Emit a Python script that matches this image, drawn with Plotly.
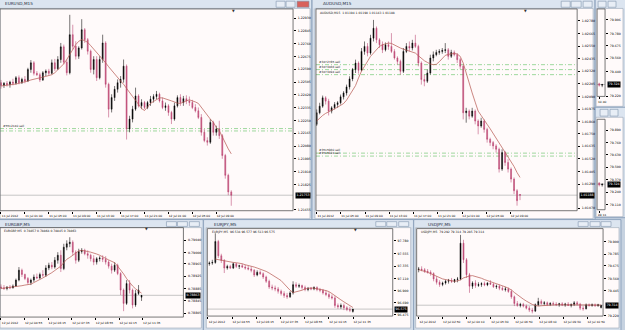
import plotly.graph_objects as go

W, H = 625, 330
FONT = "DejaVu Sans"

# ---------------- EURUSD M15 ----------------
eu_open = [1.22501,1.22483,1.22497,1.22488,1.22505,1.22497,1.22534,1.22501,1.22523,1.22512,
           1.22589,1.22633,1.22563,1.22554,1.22519,1.22567,1.22578,1.22563,1.22633,1.22593,
           1.22655,1.22739,1.22637,1.22567,1.22820,1.22743,1.22677,1.22732,1.22853,1.22787,
           1.22710,1.22589,1.22655,1.22534,1.22655,1.22765,1.22490,1.22325,1.22402,1.22457,
           1.22501,1.22523,1.22611,1.22193,1.22259,1.22325,1.22413,1.22347,1.22369,1.22336,
           1.22369,1.22391,1.22409,1.22424,1.22380,1.22336,1.22347,1.22303,1.22259,1.22347,
           1.22402,1.22369,1.22395,1.22380,1.22369,1.22336,1.22314,1.22270,1.22171,1.22116,
           1.22105,1.22237,1.22171,1.22193,1.22149,1.22017,1.21885,1.21775]
eu_high = [1.22519,1.22505,1.22512,1.22514,1.22527,1.22545,1.22549,1.22534,1.22545,1.22600,
           1.22651,1.22644,1.22578,1.22567,1.22578,1.22589,1.22593,1.22655,1.22659,1.22677,
           1.22765,1.22754,1.22655,1.22952,1.22886,1.22776,1.22743,1.22923,1.22864,1.22798,
           1.22721,1.22677,1.22677,1.22677,1.22820,1.22776,1.22501,1.22424,1.22479,1.22523,
           1.22545,1.22655,1.22622,1.22281,1.22347,1.22468,1.22424,1.22391,1.22380,1.22380,
           1.22413,1.22424,1.22446,1.22435,1.22402,1.22369,1.22358,1.22314,1.22369,1.22417,
           1.22424,1.22413,1.22417,1.22409,1.22387,1.22358,1.22336,1.22292,1.22193,1.22138,
           1.22259,1.22248,1.22215,1.22248,1.22160,1.22028,1.21896,1.21786]
eu_low = [1.22461,1.22466,1.22475,1.22468,1.22483,1.22488,1.22490,1.22492,1.22497,1.22505,
          1.22567,1.22549,1.22545,1.22505,1.22512,1.22545,1.22549,1.22556,1.22578,1.22585,
          1.22633,1.22622,1.22549,1.22556,1.22721,1.22655,1.22659,1.22721,1.22765,1.22688,
          1.22567,1.22556,1.22512,1.22523,1.22633,1.22468,1.22270,1.22303,1.22380,1.22435,
          1.22468,1.22501,1.22123,1.22171,1.22237,1.22314,1.22336,1.22325,1.22325,1.22325,
          1.22347,1.22369,1.22391,1.22369,1.22325,1.22314,1.22281,1.22226,1.22248,1.22336,
          1.22347,1.22347,1.22358,1.22347,1.22325,1.22303,1.22259,1.22149,1.22105,1.22083,
          1.22094,1.22149,1.22149,1.22127,1.21995,1.21863,1.21753,1.21683]
eu_close = [1.22483,1.22497,1.22488,1.22505,1.22497,1.22534,1.22501,1.22523,1.22512,1.22589,
            1.22633,1.22563,1.22554,1.22519,1.22567,1.22578,1.22563,1.22633,1.22593,1.22655,
            1.22739,1.22637,1.22567,1.22820,1.22743,1.22677,1.22732,1.22853,1.22787,1.22710,
            1.22589,1.22655,1.22534,1.22655,1.22765,1.22490,1.22325,1.22402,1.22457,1.22501,
            1.22523,1.22611,1.22193,1.22259,1.22325,1.22413,1.22347,1.22369,1.22336,1.22369,
            1.22391,1.22409,1.22424,1.22380,1.22336,1.22347,1.22303,1.22259,1.22347,1.22402,
            1.22369,1.22395,1.22380,1.22369,1.22336,1.22314,1.22270,1.22171,1.22116,1.22105,
            1.22237,1.22171,1.22193,1.22149,1.22017,1.21885,1.21775,1.21753]
eu_ma = [1.22479,1.22481,1.22483,1.22486,1.22488,1.22492,1.22497,1.22501,1.22505,1.22512,
         1.22519,1.22525,1.22530,1.22534,1.22538,1.22543,1.22549,1.22554,1.22567,1.22585,
         1.22607,1.22626,1.22655,1.22688,1.22725,1.22754,1.22776,1.22787,1.22780,1.22769,
         1.22747,1.22725,1.22703,1.22684,1.22662,1.22633,1.22607,1.22582,1.22556,1.22534,
         1.22512,1.22490,1.22461,1.22435,1.22409,1.22384,1.22358,1.22329,1.22316,1.22343,
         1.22363,1.22376,1.22391,1.22400,1.22400,1.22395,1.22389,1.22380,1.22373,1.22365,
         1.22363,1.22369,1.22380,1.22387,1.22382,1.22373,1.22363,1.22336,1.22314,1.22285,
         1.22259,1.22237,1.22204,1.22182,1.22138,1.22098,1.22061,1.22028]
eu_yticks = ["1.22930","1.22845","1.22760","1.22675","1.22590","1.22505","1.22420","1.22335",
             "1.22250","1.22165","1.22080","1.21995","1.21910","1.21825","1.21655"]
eu_times = ["11 Jul 2012","11 Jul 01:00","11 Jul 05:00","11 Jul 09:00","11 Jul 13:00",
            "11 Jul 17:00","11 Jul 21:00","12 Jul 01:00","12 Jul 05:00","12 Jul 09:00"]
eu_sell = [1.22196, 1.22180]
eu_sell_lbl = ["#5512140 sell", ""]

# ---------------- AUDUSD M15 ----------------
au_open = [1.01835,1.01941,1.02001,1.02077,1.02047,1.01956,1.01986,1.02016,1.02032,1.02086,
           1.02122,1.02177,1.02250,1.02335,1.02395,1.02329,1.02501,1.02547,1.02486,1.02622,
           1.02713,1.02607,1.02562,1.02516,1.02562,1.02547,1.02501,1.02441,1.02410,1.02319,
           1.02501,1.02547,1.02532,1.02577,1.02547,1.02395,1.02244,1.02229,1.02304,1.02441,
           1.02471,1.02492,1.02501,1.02510,1.02516,1.02456,1.02492,1.02471,1.02426,1.02365,
           1.01941,1.01956,1.01910,1.01956,1.01865,1.01820,1.01865,1.01789,1.01698,1.01668,
           1.01638,1.01607,1.01426,1.01577,1.01486,1.01426,1.01335,1.01229,1.01194]
au_high = [1.01971,1.02032,1.02098,1.02092,1.02068,1.02001,1.02038,1.02047,1.02107,1.02138,
           1.02198,1.02274,1.02350,1.02426,1.02410,1.02532,1.02592,1.02577,1.02653,1.02789,
           1.02729,1.02622,1.02592,1.02583,1.02592,1.02668,1.02522,1.02456,1.02426,1.02532,
           1.02577,1.02592,1.02607,1.02653,1.02562,1.02410,1.02289,1.02335,1.02471,1.02501,
           1.02516,1.02522,1.02532,1.02577,1.02532,1.02516,1.02510,1.02486,1.02441,1.02380,
           1.01986,1.01971,1.01986,1.01971,1.01880,1.01895,1.01880,1.01804,1.01713,1.01683,
           1.01653,1.01622,1.01607,1.01592,1.01517,1.01441,1.01350,1.01244,1.01198]
au_low = [1.01820,1.01926,1.01986,1.02016,1.01916,1.01935,1.01971,1.01986,1.02016,1.02062,
          1.02098,1.02153,1.02229,1.02304,1.02298,1.02319,1.02471,1.02456,1.02471,1.02592,
          1.02577,1.02532,1.02486,1.02501,1.02516,1.02486,1.02426,1.02380,1.02289,1.02304,
          1.02486,1.02501,1.02510,1.02532,1.02365,1.02198,1.02183,1.02213,1.02289,1.02410,
          1.02456,1.02471,1.02480,1.02486,1.02426,1.02441,1.02456,1.02395,1.02341,1.01880,
          1.01850,1.01880,1.01895,1.01835,1.01744,1.01804,1.01759,1.01668,1.01638,1.01607,
          1.01577,1.01395,1.01410,1.01456,1.01395,1.01304,1.01198,1.01092,1.01143]
au_close = [1.01941,1.02001,1.02077,1.02047,1.01956,1.01986,1.02016,1.02032,1.02086,1.02122,
            1.02177,1.02250,1.02335,1.02395,1.02329,1.02501,1.02547,1.02486,1.02622,1.02713,
            1.02607,1.02562,1.02516,1.02562,1.02547,1.02501,1.02441,1.02410,1.02319,1.02501,
            1.02547,1.02532,1.02577,1.02547,1.02395,1.02244,1.02229,1.02304,1.02441,1.02471,
            1.02492,1.02501,1.02510,1.02516,1.02456,1.02492,1.02471,1.02426,1.02365,1.01941,
            1.01956,1.01910,1.01956,1.01865,1.01820,1.01865,1.01789,1.01698,1.01668,1.01638,
            1.01607,1.01426,1.01577,1.01486,1.01426,1.01335,1.01229,1.01138,1.01188]
au_ma = [1.01865,1.01895,1.01916,1.01935,1.01947,1.01962,1.01977,1.01992,1.02007,1.02025,
         1.02056,1.02098,1.02144,1.02189,1.02259,1.02322,1.02365,1.02410,1.02456,1.02486,
         1.02522,1.02547,1.02562,1.02571,1.02577,1.02574,1.02559,1.02547,1.02532,1.02522,
         1.02513,1.02504,1.02495,1.02486,1.02462,1.02438,1.02416,1.02401,1.02386,1.02380,
         1.02383,1.02407,1.02438,1.02465,1.02474,1.02480,1.02483,1.02477,1.02456,1.02395,
         1.02298,1.02207,1.02122,1.02038,1.01956,1.01916,1.01880,1.01835,1.01795,1.01753,
         1.01713,1.01668,1.01622,1.01583,1.01541,1.01495,1.01450,1.01395,1.01350]
au_yticks = ["1.02780","1.02665","1.02550","1.02435","1.02320","1.02205","1.02090","1.01975",
             "1.01860","1.01750","1.01635","1.01520","1.01405","1.01290","1.01070"]
au_times = ["11 Jul 2012","11 Jul 05:00","11 Jul 09:00","11 Jul 13:00","11 Jul 17:00",
            "11 Jul 21:00","12 Jul 01:00","12 Jul 05:00","12 Jul 09:00"]
au_sell = [1.02380, 1.02335, 1.02289, 1.01572, 1.01545]
au_sell_lbl = ["#3472785 sell", "#3473466 sell", "#3473494 sell", "#3515960 sell", "#3515924 sell"]

# ---------------- small USDJPY windows (right, mostly hidden) ----------------
ra_open = [79.330, 79.318]
ra_high = [79.340, 79.330]
ra_low = [79.305, 79.300]
ra_close = [79.318, 79.324]
ra_yticks = ["79.906","79.780","79.675","79.560","79.440","79.220"]
ra_times = ["10:40"]
rb_open = [79.335, 79.316]
rb_high = [79.345, 79.330]
rb_low = [79.300, 79.298]
rb_close = [79.316, 79.324]
rb_yticks = ["79.890","79.760","79.630","79.500","79.370","79.240","79.110"]
rb_times = ["09:11"]

# ---------------- EURGBP M5 ----------------
gb_open = [0.78890,0.78887,0.78885,0.78889,0.78887,0.78893,0.78912,0.78944,0.78930,0.78917,
           0.78904,0.78912,0.78922,0.78919,0.78930,0.78928,0.78951,0.78960,0.78954,0.78976,
           0.78992,0.78949,0.79018,0.79029,0.79034,0.79002,0.78976,0.79004,0.79008,0.78997,
           0.78992,0.78981,0.78970,0.78981,0.78983,0.78979,0.78970,0.78957,0.78944,0.78960,
           0.78933,0.78880,0.78837,0.78901,0.78880,0.78832,0.78869,0.78857]
gb_high = [0.78898,0.78896,0.78893,0.78896,0.78898,0.78917,0.78954,0.78949,0.78933,0.78922,
           0.78917,0.78930,0.78933,0.78936,0.78944,0.78960,0.78968,0.78970,0.78986,0.79002,
           0.79008,0.79029,0.79040,0.79050,0.79040,0.79008,0.79013,0.79015,0.79013,0.79008,
           0.78997,0.78992,0.78986,0.78989,0.78992,0.78989,0.78976,0.78965,0.78970,0.78965,
           0.78938,0.78885,0.78912,0.78912,0.78885,0.78880,0.78896,0.78864]
gb_low = [0.78883,0.78880,0.78879,0.78883,0.78885,0.78890,0.78908,0.78922,0.78912,0.78898,
          0.78896,0.78906,0.78915,0.78915,0.78922,0.78922,0.78944,0.78947,0.78949,0.78965,
          0.78938,0.78944,0.79008,0.79018,0.78992,0.78965,0.78970,0.78997,0.78992,0.78981,
          0.78972,0.78960,0.78962,0.78972,0.78970,0.78962,0.78949,0.78933,0.78938,0.78928,
          0.78864,0.78812,0.78832,0.78869,0.78821,0.78826,0.78864,0.78845]
gb_close = [0.78887,0.78885,0.78889,0.78887,0.78893,0.78912,0.78944,0.78930,0.78917,0.78904,
            0.78912,0.78922,0.78919,0.78930,0.78928,0.78951,0.78960,0.78954,0.78976,0.78992,
            0.78949,0.79018,0.79029,0.79034,0.79002,0.78976,0.79004,0.79008,0.78997,0.78992,
            0.78981,0.78970,0.78981,0.78983,0.78979,0.78970,0.78957,0.78944,0.78960,0.78933,
            0.78880,0.78837,0.78901,0.78880,0.78832,0.78869,0.78880,0.78863]
gb_ma = [0.78885,0.78886,0.78887,0.78888,0.78889,0.78891,0.78893,0.78894,0.78896,0.78897,
         0.78899,0.78904,0.78908,0.78914,0.78919,0.78924,0.78931,0.78936,0.78943,0.78949,
         0.78957,0.78968,0.78979,0.78985,0.78993,0.79000,0.79006,0.79008,0.79007,0.79004,
         0.79002,0.79000,0.78996,0.78992,0.78986,0.78982,0.78977,0.78972,0.78968,0.78957,
         0.78946,0.78932,0.78917,0.78904,0.78893,0.78884,0.78876,0.78870]
gb_yticks = ["0.79040","0.79000","0.78965","0.78925","0.78885","0.78845","0.78805"]
gb_times = ["12 Jul 2012","12 Jul 04:55","12 Jul 06:15","12 Jul 07:35","12 Jul 08:55",
            "12 Jul 10:15","12 Jul 11:35"]

# ---------------- EURJPY M5 ----------------
jy_open = [97.376,97.388,97.399,97.768,97.516,97.435,97.300,97.329,97.300,97.376,
           97.329,97.341,97.318,97.300,97.282,97.259,97.177,97.224,97.200,97.142,
           97.066,96.966,96.949,96.931,96.890,96.849,96.814,96.791,96.861,97.007,
           96.978,96.990,96.955,96.920,96.943,96.931,96.955,96.920,96.908,96.861,
           96.832,96.791,96.773,96.639,96.615,96.639,96.598,96.568,96.534]
jy_high = [97.417,97.446,97.914,97.797,97.552,97.458,97.358,97.358,97.399,97.388,
           97.358,97.376,97.358,97.341,97.329,97.282,97.259,97.259,97.224,97.165,
           97.095,97.007,96.990,96.966,96.920,96.890,96.861,96.890,97.066,97.048,
           97.025,97.007,96.990,96.966,96.966,96.978,96.978,96.949,96.931,96.908,
           96.873,96.832,96.803,96.674,96.674,96.674,96.627,96.615,96.577]
jy_low = [97.341,97.358,97.376,97.476,97.388,97.212,97.271,97.282,97.282,97.300,
          97.282,97.300,97.271,97.259,97.224,97.142,97.154,97.177,97.107,97.037,
          96.931,96.908,96.890,96.849,96.814,96.773,96.756,96.773,96.832,96.949,
          96.949,96.920,96.890,96.890,96.908,96.908,96.890,96.873,96.832,96.803,
          96.756,96.744,96.598,96.580,96.580,96.557,96.539,96.522,96.513]
jy_close = [97.388,97.399,97.768,97.516,97.435,97.300,97.329,97.300,97.376,97.329,
            97.341,97.318,97.300,97.282,97.259,97.177,97.224,97.200,97.142,97.066,
            96.966,96.949,96.931,96.890,96.849,96.814,96.791,96.861,97.007,96.978,
            96.990,96.955,96.920,96.943,96.931,96.955,96.920,96.908,96.861,96.832,
            96.791,96.773,96.639,96.615,96.639,96.598,96.568,96.557,96.575]
jy_ma = [None,None,97.458,97.446,97.435,97.423,97.417,97.405,97.399,97.394,
         97.388,97.376,97.358,97.347,97.335,97.318,97.300,97.282,97.265,97.241,
         97.212,97.183,97.148,97.113,97.078,97.019,96.961,96.908,96.867,96.879,
         96.890,96.908,96.931,96.943,96.949,96.943,96.937,96.925,96.914,96.902,
         96.884,96.849,96.808,96.773,96.738,96.703,96.668,96.633,96.604]
jy_yticks = ["97.780","97.555","97.335","97.110","96.900","96.690","96.475"]
jy_times = ["12 Jul 2012","12 Jul 04:55","12 Jul 06:15","12 Jul 07:35","12 Jul 08:55",
            "12 Jul 10:15","12 Jul 11:35"]

# ---------------- USDJPY M5 ----------------
uj_open = [79.641,79.647,79.641,79.626,79.617,79.605,79.556,79.525,79.504,79.519,
           79.534,79.544,79.531,79.550,79.556,79.885,79.733,79.595,79.489,79.519,
           79.495,79.504,79.513,79.501,79.519,79.507,79.483,79.489,79.470,79.458,
           79.464,79.440,79.391,79.330,79.312,79.321,79.306,79.287,79.269,79.260,
           79.318,79.348,79.330,79.336,79.321,79.330,79.324,79.318,79.327,79.315,
           79.324,79.312,79.321,79.336,79.324,79.287,79.281,79.318,79.312,79.318,
           79.309,79.292]
uj_high = [79.666,79.672,79.656,79.647,79.635,79.617,79.580,79.544,79.531,79.550,
           79.556,79.565,79.556,79.574,79.961,79.916,79.748,79.611,79.534,79.544,
           79.525,79.525,79.531,79.525,79.544,79.519,79.504,79.504,79.489,79.483,
           79.477,79.458,79.403,79.352,79.336,79.336,79.321,79.306,79.290,79.330,
           79.382,79.367,79.352,79.348,79.342,79.348,79.342,79.336,79.342,79.336,
           79.342,79.330,79.352,79.352,79.336,79.306,79.330,79.330,79.330,79.330,
           79.327,79.314]
uj_low = [79.617,79.626,79.611,79.605,79.586,79.534,79.504,79.483,79.489,79.504,
          79.513,79.519,79.519,79.525,79.544,79.702,79.565,79.428,79.464,79.474,
          79.483,79.483,79.489,79.489,79.501,79.474,79.464,79.452,79.446,79.440,
          79.428,79.373,79.306,79.300,79.294,79.294,79.275,79.251,79.239,79.251,
          79.306,79.318,79.312,79.306,79.306,79.312,79.306,79.300,79.306,79.300,
          79.306,79.294,79.306,79.312,79.269,79.263,79.275,79.300,79.300,79.300,
          79.300,79.285]
uj_close = [79.647,79.641,79.626,79.617,79.605,79.556,79.525,79.504,79.519,79.534,
            79.544,79.531,79.550,79.556,79.885,79.733,79.595,79.489,79.519,79.495,
            79.504,79.513,79.501,79.519,79.507,79.483,79.489,79.470,79.458,79.464,
            79.440,79.391,79.330,79.312,79.321,79.306,79.287,79.269,79.260,79.318,
            79.348,79.330,79.336,79.321,79.330,79.324,79.318,79.327,79.315,79.324,
            79.312,79.321,79.336,79.324,79.287,79.281,79.318,79.312,79.318,79.309,
            79.318,79.314]
uj_ma = [79.641,79.635,79.626,79.617,79.605,79.592,79.580,79.568,79.556,79.550,
         79.544,79.538,79.534,79.538,79.547,79.565,79.577,79.583,79.586,79.580,
         79.574,79.562,79.550,79.541,79.528,79.519,79.510,79.501,79.492,79.483,
         79.470,79.455,79.431,79.409,79.388,79.370,79.352,79.336,79.321,79.312,
         79.306,79.309,79.312,79.312,79.315,79.315,79.318,79.318,79.318,79.321,
         79.321,79.321,79.321,79.321,79.318,79.318,79.315,79.315,79.315,79.315,
         79.315,79.315]
uj_yticks = ["79.900","79.785","79.675","79.560","79.445","79.220"]
uj_times = ["12 Jul 2012","12 Jul 02:50","12 Jul 04:10","12 Jul 05:30","12 Jul 06:50",
            "12 Jul 08:10","12 Jul 09:30","12 Jul 10:50"]

# ---------------- styling / layout helpers ----------------
SNOW = "#FFFAFA"
FRAME = "#D3DDE9"
BORDER = "#8EA3BD"
TITLEBAR = "#DCE5F0"
BULL = "#000000"
BEAR_LINE = "#B8416E"
BEAR_FILL = "#C9577F"
MA_COL = "#B9605A"
SELL_COL = "#86CF86"
BID_COL = "#B8B8B8"


def fx(px):
    return px / W


def fy(py):
    return 1 - py / H


fig = go.Figure()
shapes = []
annotations = []

# window frames: (x0, y0, x1, y1, title_y0, title_y1, client(x0,y0,x1,y1), title, title_x, buttons)
windows = [
    (-3, -3, 313, 221, -3, 8.5, (0, 8.5, 311, 220), "EURUSD,M15", 3, [(277, 286), (287, 296), (298, 310)]),
    (313, -3, 597, 221, -3, 8.5, (316, 8.5, 595, 220), "AUDUSD,M15", 322, [(563, 572), (573, 583), (585, 594)]),
    (597, -3, 630, 108, -3, 8.5, (598, 8.5, 625, 107), "", 0, [(600, 608), (610, 618)]),
    (597, 108, 630, 219, 108, 118, (598, 118, 625, 218), "", 0, [(602, 610), (612, 620)]),
    (-3, 221, 204, 335, 221, 229, (0, 229, 202, 330), "EURGBP,M5", 3, [(167, 177), (178, 188), (190, 200)]),
    (204, 221, 415, 335, 221, 229, (207, 229, 412, 330), "EURJPY,M5", 213, [(377, 387), (388, 398), (400, 410)]),
    (415, 221, 623, 335, 221, 229, (417, 229, 621, 330), "USDJPY,M5", 427, [(580, 590), (592, 602), (603, 613)]),
]
for i, (x0, y0, x1, y1, ty0, ty1, cl, title, tx, btns) in enumerate(windows):
    shapes.append(dict(type="rect", xref="paper", yref="paper", x0=fx(x0), x1=fx(x1), y0=fy(y1), y1=fy(y0),
                       fillcolor=FRAME, line=dict(color=BORDER, width=1), layer="below"))
    shapes.append(dict(type="rect", xref="paper", yref="paper", x0=fx(x0 + 1), x1=fx(x1 - 1), y0=fy(ty1), y1=fy(ty0 + 0.5),
                       fillcolor=TITLEBAR, line=dict(width=0), layer="below"))
    shapes.append(dict(type="rect", xref="paper", yref="paper", x0=fx(cl[0]), x1=fx(cl[2]), y0=fy(cl[3]), y1=fy(cl[1]),
                       fillcolor=SNOW, line=dict(color="#9AA8B8", width=0.6), layer="below"))
    by0, by1 = ty0 + 2.0 if ty0 > 0 else 1.2, ty1 - 1.2
    for j, (bx0, bx1) in enumerate(btns):
        red = (i == 0 and j == len(btns) - 1)
        shapes.append(dict(type="rect", xref="paper", yref="paper", x0=fx(bx0), x1=fx(bx1), y0=fy(by1), y1=fy(by0),
                           fillcolor="#D8615B" if red else "#E8EEF6",
                           line=dict(color="#8093AC", width=0.6), layer="below"))
    if title:
        annotations.append(dict(text=title, xref="paper", yref="paper", x=fx(tx), y=fy((ty0 + ty1) / 2 + 0.5),
                                xanchor="left", yanchor="middle", showarrow=False,
                                font=dict(family=FONT, size=4.2, color="#1A2A3A")))

# chart panels
panels = [
    dict(o=eu_open, h=eu_high, l=eu_low, c=eu_close, ma=eu_ma, box=(0, 9, 294, 212),
         xr=(-0.33, 97.67), yr=(1.21650, 1.22991), yt=eu_yticks, times=eu_times, t0=0, dt=8, shift=9,
         fmt="%.5f", sell=eu_sell, sell_lbl=eu_sell_lbl, header=None, marker=234),
    dict(o=au_open, h=au_high, l=au_low, c=au_close, ma=au_ma, box=(317, 9, 579, 212),
         xr=(-0.23, 87.1), yr=(1.01046, 1.02889), yt=au_yticks, times=au_times, t0=0, dt=8.1, shift=9,
         fmt="%.5f", sell=au_sell, sell_lbl=au_sell_lbl,
         header="AUDUSD,M15  1.01194 1.01198 1.01143 1.01188", marker=527),
    dict(o=ra_open, h=ra_high, l=ra_low, c=ra_close, ma=None, box=(599, 9, 607, 97),
         xr=(-0.7, 1.97), yr=(79.217, 80.004), yt=ra_yticks, times=ra_times, t0=0, dt=1, shift=3,
         fmt="%.3f", sell=[], sell_lbl=[], header=None, marker=None),
    dict(o=rb_open, h=rb_high, l=rb_low, c=rb_close, ma=None, box=(599, 120, 607, 211),
         xr=(-0.7, 1.97), yr=(79.056, 80.003), yt=rb_yticks, times=rb_times, t0=0, dt=1, shift=3,
         fmt="%.3f", sell=[], sell_lbl=[], header=None, marker=None),
    dict(o=gb_open, h=gb_high, l=gb_low, c=gb_close, ma=gb_ma, box=(0, 229, 184, 319),
         xr=(-0.33, 61.0), yr=(0.78793, 0.79081), yt=gb_yticks, times=gb_times, t0=0, dt=7.9, shift=9,
         fmt="%.5f", sell=[], sell_lbl=[],
         header="EURGBP,M5  0.78857 0.78864 0.78845 0.78863", marker=147),
    dict(o=jy_open, h=jy_high, l=jy_low, c=jy_close, ma=jy_ma, box=(208, 230, 394, 318),
         xr=(-0.67, 61.33), yr=(96.452, 97.996), yt=jy_yticks, times=jy_times, t0=-0.5, dt=8.1, shift=9,
         fmt="%.3f", sell=[], sell_lbl=[],
         header="EURJPY,M5  96.534 96.577 96.513 96.575", marker=357),
    dict(o=uj_open, h=uj_high, l=uj_low, c=uj_close, ma=uj_ma, box=(418, 230, 605, 318),
         xr=(-0.67, 61.67), yr=(79.214, 80.019), yt=uj_yticks, times=uj_times, t0=0, dt=8.05, shift=9,
         fmt="%.3f", sell=[], sell_lbl=[],
         header="USDJPY,M5  79.292 79.314 79.285 79.314", marker=None),
]

layout_axes = {}
for k, p in enumerate(panels, start=1):
    xa = "x" if k == 1 else f"x{k}"
    ya = "y" if k == 1 else f"y{k}"
    xkey = "xaxis" if k == 1 else f"xaxis{k}"
    ykey = "yaxis" if k == 1 else f"yaxis{k}"
    n = len(p["c"])
    xs = list(range(n))
    x0, y0, x1, y1 = p["box"]

    fig.add_trace(go.Candlestick(
        x=xs, open=p["o"], high=p["h"], low=p["l"], close=p["c"],
        increasing=dict(line=dict(color=BULL, width=0.55), fillcolor=BULL),
        decreasing=dict(line=dict(color=BEAR_LINE, width=0.55), fillcolor=BEAR_FILL),
        whiskerwidth=0, xaxis=xa, yaxis=ya, showlegend=False, hoverinfo="skip"))
    if p["ma"] is not None:
        fig.add_trace(go.Scatter(x=xs, y=p["ma"], mode="lines", line=dict(color=MA_COL, width=0.75),
                                 xaxis=xa, yaxis=ya, showlegend=False, hoverinfo="skip", connectgaps=False))

    tickpos = [p["t0"] + p["dt"] * i for i in range(len(p["times"]))]
    layout_axes[xkey] = dict(
        domain=[fx(x0), fx(x1)], range=list(p["xr"]), anchor=ya, showgrid=False, zeroline=False,
        showline=False, ticks="outside", ticklen=2, tickwidth=0.6, tickcolor="#000",
        tickvals=tickpos, ticktext=p["times"], ticklabelshift=p["shift"], ticklabelstandoff=0,
        tickfont=dict(family=FONT, size=2.9, color="#000"), rangeslider=dict(visible=False),
        fixedrange=True)
    layout_axes[ykey] = dict(
        domain=[fy(y1), fy(y0)], range=list(p["yr"]), anchor=xa, side="right", showgrid=False,
        zeroline=False, showline=False, ticks="outside", ticklen=2, tickwidth=0.6, tickcolor="#000",
        tickvals=[float(t) for t in p["yt"]], ticktext=p["yt"], ticklabelstandoff=1,
        tickfont=dict(family=FONT, size=3.2, color="#000"), fixedrange=True)

    # plot border
    shapes.append(dict(type="rect", xref="paper", yref="paper", x0=fx(x0), x1=fx(x1), y0=fy(y1), y1=fy(y0),
                       line=dict(color="#555555", width=0.8), fillcolor="rgba(0,0,0,0)", layer="above"))
    # bid line at last close
    shapes.append(dict(type="line", xref=f"{xa} domain", x0=0, x1=1, yref=ya, y0=p["c"][-1], y1=p["c"][-1],
                       line=dict(color=BID_COL, width=0.8), layer="below"))
    # sell order lines
    for v, lbl in zip(p["sell"], p["sell_lbl"]):
        shapes.append(dict(type="line", xref=f"{xa} domain", x0=0, x1=1, yref=ya, y0=v, y1=v,
                           line=dict(color=SELL_COL, width=0.8, dash="4px,2px,1px,2px"), layer="below"))
        if lbl:
            annotations.append(dict(text=lbl, xref=f"{xa} domain", x=0.006, yref=ya, y=v, xanchor="left",
                                    yanchor="bottom", showarrow=False, borderpad=0,
                                    font=dict(family=FONT, size=2.9, color="#222")))
    # current price box
    annotations.append(dict(text=p["fmt"] % p["c"][-1], xref="paper", x=fx(x1 + 1.5), yref=ya, y=p["c"][-1],
                            xanchor="left", yanchor="middle", showarrow=False, bgcolor="#000000",
                            borderpad=0.4, font=dict(family=FONT, size=3.2, color="#FFFFFF")))
    if p["header"]:
        annotations.append(dict(text=p["header"], xref="paper", yref="paper", x=fx(x0 + 2.5), y=fy(y0 + 3.8),
                                xanchor="left", yanchor="middle", showarrow=False,
                                font=dict(family=FONT, size=3.0, color="#111")))
    if p["marker"] is not None:
        annotations.append(dict(text="▼", xref="paper", yref="paper", x=fx(p["marker"]), y=fy(y0 + 1.8),
                                xanchor="center", yanchor="middle", showarrow=False,
                                font=dict(family=FONT, size=3.5, color="#333")))

fig.update_layout(
    width=W, height=H, margin=dict(l=0, r=0, t=0, b=0),
    paper_bgcolor="#C6D2E0", plot_bgcolor="rgba(0,0,0,0)",
    boxgap=0.55, boxgroupgap=0.3,
    showlegend=False, shapes=shapes, annotations=annotations, dragmode=False,
    font=dict(family=FONT), **layout_axes)

fig.write_html("out.html", config={"displayModeBar": False})
